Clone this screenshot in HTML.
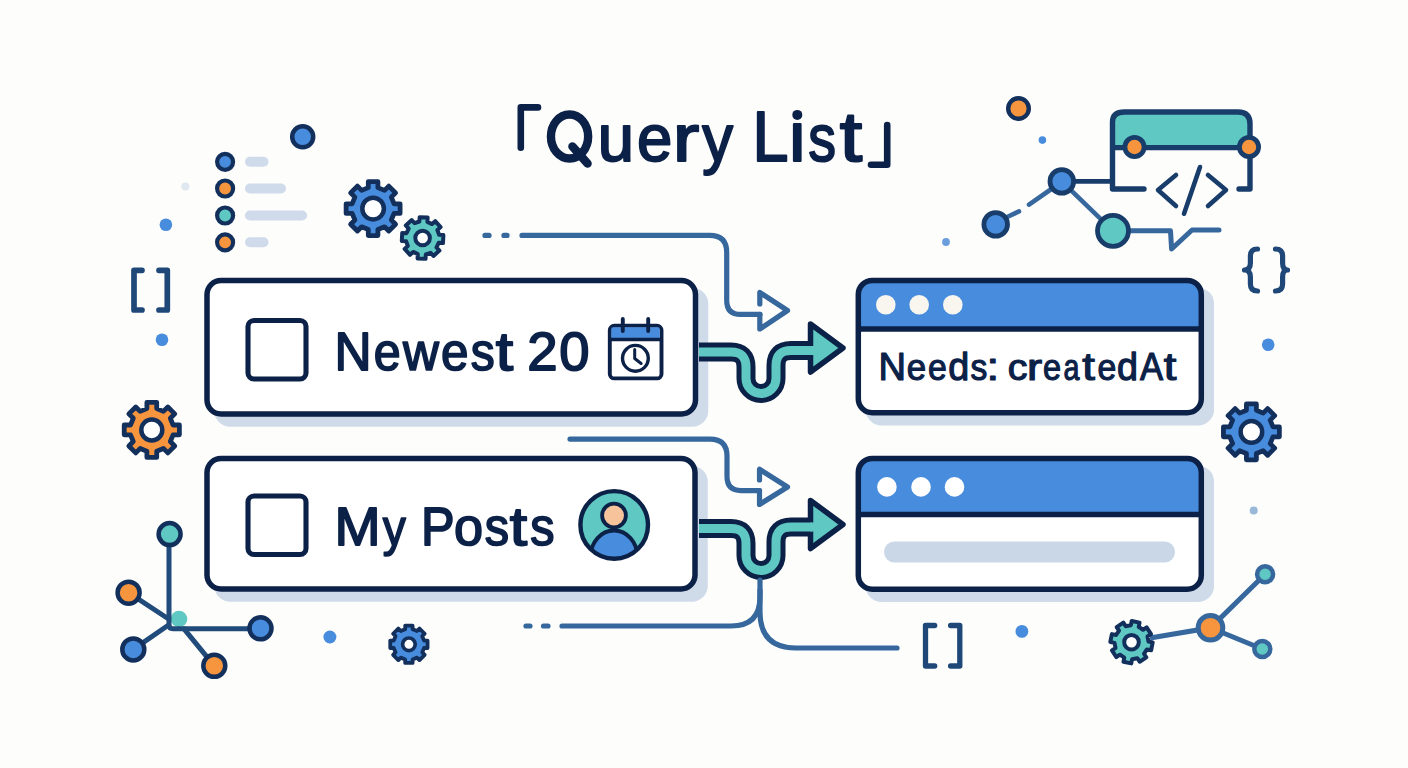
<!DOCTYPE html>
<html><head><meta charset="utf-8"><style>
html,body{margin:0;padding:0;background:#fdfdfc;}
svg{display:block;font-family:"Liberation Sans",sans-serif;}
</style></head><body>
<svg width="1408" height="768" viewBox="0 0 1408 768">
<rect width="1408" height="768" fill="#fdfdfc"/>
<path d="M538,107.4 H520.8 V147.7" fill="none" stroke="#0c2147" stroke-width="6.6" stroke-linecap="round" stroke-linejoin="round"/>
<path d="M871,164.8 H887.2 V125" fill="none" stroke="#0c2147" stroke-width="6.6" stroke-linecap="round" stroke-linejoin="round"/>
<ellipse cx="569.55" cy="136.45" rx="18.6" ry="22" fill="none" stroke="#0c2147" stroke-width="8.4"/><path d="M572.5,146.5 L587.5,163.5" stroke="#0c2147" stroke-width="8.6" stroke-linecap="round"/>
<circle cx="797.3" cy="114.9" r="5" fill="#0c2147"/>
<text transform="translate(597.72,160.7) scale(0.9275,0.96)" font-size="70.3" fill="#0c2147" stroke="#0c2147" stroke-width="2.10" stroke-linejoin="round">u</text><text transform="translate(636.95,160.7) scale(0.9034,0.96)" font-size="70.3" fill="#0c2147" stroke="#0c2147" stroke-width="2.10" stroke-linejoin="round">e</text><text transform="translate(672.66,160.7) scale(1.1323,0.96)" font-size="70.3" fill="#0c2147" stroke="#0c2147" stroke-width="2.10" stroke-linejoin="round">r</text><text transform="translate(702.30,160.7) scale(0.8754,0.96)" font-size="70.3" fill="#0c2147" stroke="#0c2147" stroke-width="2.10" stroke-linejoin="round">y</text><text transform="translate(752.55,160.7) scale(0.9195,1.0)" font-size="70.3" fill="#0c2147" stroke="#0c2147" stroke-width="2.10" stroke-linejoin="round">L</text><text transform="translate(787.04,160.7) scale(1.0520,1.0)" font-size="70.3" fill="#0c2147" stroke="#0c2147" stroke-width="2.10" stroke-linejoin="round">ı</text><text transform="translate(808.21,160.7) scale(0.7895,0.96)" font-size="70.3" fill="#0c2147" stroke="#0c2147" stroke-width="2.10" stroke-linejoin="round">s</text><text transform="translate(839.83,160.7) scale(1.1500,1.0)" font-size="70.3" fill="#0c2147" stroke="#0c2147" stroke-width="2.10" stroke-linejoin="round">t</text>
<circle cx="302.7" cy="136.8" r="10.5" fill="#488ddd" stroke="#13305d" stroke-width="4.5"/>
<circle cx="225.1" cy="161.8" r="8" fill="#488ddd" stroke="#13305d" stroke-width="4.2"/>
<line x1="250" y1="161.8" x2="263.5" y2="161.8" stroke="#cfdaea" stroke-width="10" stroke-linecap="round"/>
<circle cx="225.1" cy="188.5" r="8" fill="#f7953f" stroke="#13305d" stroke-width="4.2"/>
<line x1="250" y1="188.5" x2="281" y2="188.5" stroke="#cfdaea" stroke-width="10" stroke-linecap="round"/>
<circle cx="225.1" cy="215.5" r="8" fill="#5fc8c2" stroke="#13305d" stroke-width="4.2"/>
<line x1="250" y1="215.5" x2="302" y2="215.5" stroke="#cfdaea" stroke-width="10" stroke-linecap="round"/>
<circle cx="225.1" cy="242.3" r="8" fill="#f7953f" stroke="#13305d" stroke-width="4.2"/>
<line x1="250" y1="242.3" x2="263.5" y2="242.3" stroke="#cfdaea" stroke-width="10" stroke-linecap="round"/>
<circle cx="185.4" cy="186.6" r="4" fill="#dfe7ef"/>
<circle cx="165.9" cy="224.7" r="6.3" fill="#488ddd"/>
<path d="M368.31,187.64 L368.31,181.62 L377.90,181.62 L377.90,187.64 L384.53,190.39 L388.79,186.13 L395.57,192.91 L391.31,197.17 L394.06,203.81 L400.08,203.81 L400.08,213.39 L394.06,213.39 L391.31,220.03 L395.57,224.29 L388.79,231.07 L384.53,226.81 L377.90,229.56 L377.90,235.58 L368.31,235.58 L368.31,229.56 L361.67,226.81 L357.41,231.07 L350.63,224.29 L354.89,220.03 L352.14,213.39 L346.12,213.40 L346.12,203.81 L352.14,203.81 L354.89,197.17 L350.63,192.91 L357.41,186.13 L361.67,190.39 Z" fill="#488ddd" stroke="#13305d" stroke-width="4.8" stroke-linejoin="round"/><circle cx="373.1" cy="208.6" r="10.8" fill="#fff" stroke="#13305d" stroke-width="4.5"/>
<path d="M419.42,221.50 L419.64,217.21 L427.63,217.61 L427.41,221.90 L432.02,224.09 L435.20,221.20 L440.57,227.14 L437.38,230.02 L439.10,234.82 L443.39,235.04 L442.99,243.03 L438.70,242.81 L436.51,247.42 L439.40,250.60 L433.46,255.97 L430.58,252.78 L425.78,254.50 L425.56,258.79 L417.57,258.39 L417.79,254.10 L413.18,251.91 L410.00,254.80 L404.63,248.86 L407.82,245.98 L406.10,241.18 L401.81,240.96 L402.21,232.97 L406.50,233.19 L408.69,228.58 L405.80,225.40 L411.74,220.03 L414.62,223.22 Z" fill="#5fc8c2" stroke="#13305d" stroke-width="4" stroke-linejoin="round"/><circle cx="422.6" cy="238" r="7.3" fill="#fff" stroke="#13305d" stroke-width="4"/>
<path d="M142,270.3 H134 V310 H142 M159,270.3 H167.3 V310 H159" fill="none" stroke="#1f4878" stroke-width="5.7" stroke-linecap="round" stroke-linejoin="round"/>
<circle cx="162" cy="339.8" r="6.3" fill="#488ddd"/>
<path d="M146.90,408.62 L146.90,402.33 L156.70,402.33 L156.70,408.62 L163.38,411.39 L167.83,406.94 L174.76,413.87 L170.31,418.32 L173.08,425.00 L179.37,425.00 L179.37,434.80 L173.08,434.80 L170.31,441.48 L174.76,445.93 L167.83,452.86 L163.38,448.41 L156.70,451.18 L156.70,457.47 L146.90,457.47 L146.90,451.18 L140.22,448.41 L135.77,452.86 L128.84,445.93 L133.29,441.48 L130.52,434.80 L124.23,434.80 L124.23,425.00 L130.52,425.00 L133.29,418.32 L128.84,413.87 L135.77,406.94 L140.22,411.39 Z" fill="#f7953f" stroke="#13305d" stroke-width="4.8" stroke-linejoin="round"/><circle cx="151.8" cy="429.9" r="10.5" fill="#fff" stroke="#13305d" stroke-width="4.5"/>
<circle cx="179" cy="619" r="8.3" fill="#5fc8c2"/>
<path d="M128.6,592.7 L168.6,619 M133.3,649.4 L168.6,625 M184,628.8 L214.3,665.8" fill="none" stroke="#214b7a" stroke-width="5" stroke-linecap="round"/>
<path d="M169,534 V624.8 Q169,628.8 173,628.8 H260" fill="none" stroke="#214b7a" stroke-width="5"/>
<circle cx="169.6" cy="534.1" r="11" fill="#5fc8c2" stroke="#13305d" stroke-width="4.5"/>
<circle cx="128.6" cy="592.7" r="11" fill="#f7953f" stroke="#13305d" stroke-width="4.5"/>
<circle cx="133.3" cy="649.4" r="11" fill="#488ddd" stroke="#13305d" stroke-width="4.5"/>
<circle cx="214.3" cy="665.8" r="11" fill="#f7953f" stroke="#13305d" stroke-width="4.5"/>
<circle cx="260.5" cy="628.3" r="11" fill="#488ddd" stroke="#13305d" stroke-width="4.5"/>
<circle cx="329.9" cy="637" r="6.5" fill="#488ddd"/>
<path d="M405.20,629.15 L405.20,625.66 L412.60,625.66 L412.60,629.15 L417.00,630.97 L419.46,628.51 L424.69,633.74 L422.23,636.20 L424.05,640.60 L427.54,640.60 L427.54,648.00 L424.05,648.00 L422.23,652.40 L424.69,654.86 L419.46,660.09 L417.00,657.63 L412.60,659.45 L412.60,662.94 L405.20,662.94 L405.20,659.45 L400.80,657.63 L398.34,660.09 L393.11,654.86 L395.57,652.40 L393.75,648.00 L390.26,648.00 L390.26,640.60 L393.75,640.60 L395.57,636.20 L393.11,633.74 L398.34,628.51 L400.80,630.97 Z" fill="#488ddd" stroke="#13305d" stroke-width="3.8" stroke-linejoin="round"/><circle cx="408.9" cy="644.3" r="6.3" fill="#fff" stroke="#13305d" stroke-width="3.7"/>
<rect x="214.25" y="287.75" width="494.0" height="139.0" rx="16" fill="#d0dbea"/><rect x="207" y="280.5" width="488.5" height="133.5" rx="14" fill="#fff" stroke="#0c2147" stroke-width="5.5"/>
<rect x="248" y="320.5" width="58" height="58.5" rx="6" fill="none" stroke="#0c2147" stroke-width="5.1"/>
<text transform="translate(334.49,369.5) scale(0.9427,1.0)" font-size="54.5" fill="#0c2147" stroke="#0c2147" stroke-width="1.80" stroke-linejoin="round">N</text><text transform="translate(373.64,369.5) scale(0.8876,0.95)" font-size="54.5" fill="#0c2147" stroke="#0c2147" stroke-width="1.80" stroke-linejoin="round">e</text><text transform="translate(402.97,369.5) scale(0.9123,0.95)" font-size="54.5" fill="#0c2147" stroke="#0c2147" stroke-width="1.80" stroke-linejoin="round">w</text><text transform="translate(441.10,369.5) scale(0.9072,0.95)" font-size="54.5" fill="#0c2147" stroke="#0c2147" stroke-width="1.80" stroke-linejoin="round">e</text><text transform="translate(470.87,369.5) scale(0.8795,0.95)" font-size="54.5" fill="#0c2147" stroke="#0c2147" stroke-width="1.80" stroke-linejoin="round">s</text><text transform="translate(495.65,369.5) scale(1.1500,1.0)" font-size="54.5" fill="#0c2147" stroke="#0c2147" stroke-width="1.80" stroke-linejoin="round">t</text><text transform="translate(527.35,369.5) scale(1.0029,1.0)" font-size="54.5" fill="#0c2147" stroke="#0c2147" stroke-width="1.80" stroke-linejoin="round">2</text><text transform="translate(559.28,369.5) scale(0.9980,1.0)" font-size="54.5" fill="#0c2147" stroke="#0c2147" stroke-width="1.80" stroke-linejoin="round">0</text>
<rect x="609.8" y="325.8" width="51.7" height="52.6" rx="4.5" fill="#fff" stroke="#0c2147" stroke-width="3.9"/>
<path d="M611.3,338.5 V329 Q611.3,327.3 613,327.3 H658 Q659.7,327.3 659.7,329 V338.5 Z" fill="#488ddd"/>
<line x1="609.5" y1="339.5" x2="661.5" y2="339.5" stroke="#0c2147" stroke-width="3.4"/>
<path d="M622.8,319 V331 M648.2,319 V331" stroke="#0c2147" stroke-width="3.9" stroke-linecap="round"/>
<circle cx="635.4" cy="358.3" r="12.9" fill="none" stroke="#0c2147" stroke-width="3.4"/>
<path d="M634.7,349.6 V358.5 L641.1,363.5" fill="none" stroke="#0c2147" stroke-width="3" stroke-linecap="round" stroke-linejoin="round"/>
<rect x="214.25" y="465.75" width="493.5" height="136.0" rx="16" fill="#d0dbea"/><rect x="207" y="458.5" width="488" height="130.5" rx="14" fill="#fff" stroke="#0c2147" stroke-width="5.5"/>
<rect x="248" y="496" width="58" height="58.5" rx="6" fill="none" stroke="#0c2147" stroke-width="5.1"/>
<text transform="translate(334.46,544.6) scale(1.0149,1.0)" font-size="54.5" fill="#0c2147" stroke="#0c2147" stroke-width="1.80" stroke-linejoin="round">M</text><text transform="translate(382.79,544.6) scale(0.8478,0.95)" font-size="54.5" fill="#0c2147" stroke="#0c2147" stroke-width="1.80" stroke-linejoin="round">y</text><text transform="translate(420.97,544.6) scale(0.9239,1.0)" font-size="54.5" fill="#0c2147" stroke="#0c2147" stroke-width="1.80" stroke-linejoin="round">P</text><text transform="translate(454.00,544.6) scale(0.9599,0.95)" font-size="54.5" fill="#0c2147" stroke="#0c2147" stroke-width="1.80" stroke-linejoin="round">o</text><text transform="translate(484.75,544.6) scale(0.8921,0.95)" font-size="54.5" fill="#0c2147" stroke="#0c2147" stroke-width="1.80" stroke-linejoin="round">s</text><text transform="translate(509.85,544.6) scale(1.1500,1.0)" font-size="54.5" fill="#0c2147" stroke="#0c2147" stroke-width="1.80" stroke-linejoin="round">t</text><text transform="translate(530.35,544.6) scale(0.8921,0.95)" font-size="54.5" fill="#0c2147" stroke="#0c2147" stroke-width="1.80" stroke-linejoin="round">s</text>
<clipPath id="avc"><circle cx="614.2" cy="524.9" r="33"/></clipPath>
<circle cx="614.2" cy="524.9" r="33" fill="#5fc8c2"/>
<g clip-path="url(#avc)"><ellipse cx="614" cy="557" rx="23.5" ry="26.5" fill="#488ddd" stroke="#0c2147" stroke-width="4"/></g>
<circle cx="614" cy="515.5" r="11.9" fill="#f6c39b" stroke="#0c2147" stroke-width="3.8"/>
<circle cx="614.2" cy="524.9" r="33.8" fill="none" stroke="#0c2147" stroke-width="4.4"/>
<rect x="865.55" y="287.65" width="348.5" height="137.8" rx="16" fill="#d0dbea"/><rect x="858.3" y="280.4" width="343" height="132.3" rx="14" fill="#fff"/><path d="M858.3,329 V294.4 Q858.3,280.4 872.3,280.4 H1187.3 Q1201.3,280.4 1201.3,294.4 V329 Z" fill="#488ddd"/><line x1="858.3" y1="329" x2="1201.3" y2="329" stroke="#0c2147" stroke-width="5.5"/><rect x="858.3" y="280.4" width="343" height="132.3" rx="14" fill="none" stroke="#0c2147" stroke-width="5.5"/>
<circle cx="885.8" cy="304.8" r="9.8" fill="#f8f6ee"/>
<circle cx="919.2" cy="304.8" r="9.8" fill="#f8f6ee"/>
<circle cx="952.8" cy="304.8" r="9.8" fill="#f8f6ee"/>
<text transform="translate(878.60,379.5) scale(0.9631,1.0)" font-size="39.5" fill="#0c2147" stroke="#0c2147" stroke-width="1.25" stroke-linejoin="round">N</text><text transform="translate(906.64,379.5) scale(0.8821,0.95)" font-size="39.5" fill="#0c2147" stroke="#0c2147" stroke-width="1.25" stroke-linejoin="round">e</text><text transform="translate(928.09,379.5) scale(0.8551,0.95)" font-size="39.5" fill="#0c2147" stroke="#0c2147" stroke-width="1.25" stroke-linejoin="round">e</text><text transform="translate(948.34,379.5) scale(0.9542,1.0)" font-size="39.5" fill="#0c2147" stroke="#0c2147" stroke-width="1.25" stroke-linejoin="round">d</text><text transform="translate(970.49,379.5) scale(0.8506,0.95)" font-size="39.5" fill="#0c2147" stroke="#0c2147" stroke-width="1.25" stroke-linejoin="round">s</text><text transform="translate(986.48,379.5) scale(1.1500,1.0)" font-size="39.5" fill="#0c2147" stroke="#0c2147" stroke-width="1.25" stroke-linejoin="round">:</text><text transform="translate(1007.70,379.5) scale(0.9982,0.95)" font-size="39.5" fill="#0c2147" stroke="#0c2147" stroke-width="1.25" stroke-linejoin="round">c</text><text transform="translate(1027.01,379.5) scale(1.1500,0.95)" font-size="39.5" fill="#0c2147" stroke="#0c2147" stroke-width="1.25" stroke-linejoin="round">r</text><text transform="translate(1042.94,379.5) scale(0.8228,0.95)" font-size="39.5" fill="#0c2147" stroke="#0c2147" stroke-width="1.25" stroke-linejoin="round">e</text><text transform="translate(1063.41,379.5) scale(0.7270,0.95)" font-size="39.5" fill="#0c2147" stroke="#0c2147" stroke-width="1.25" stroke-linejoin="round">a</text><text transform="translate(1082.14,379.5) scale(1.1500,1.0)" font-size="39.5" fill="#0c2147" stroke="#0c2147" stroke-width="1.25" stroke-linejoin="round">t</text><text transform="translate(1097.39,379.5) scale(0.8551,0.95)" font-size="39.5" fill="#0c2147" stroke="#0c2147" stroke-width="1.25" stroke-linejoin="round">e</text><text transform="translate(1117.04,379.5) scale(0.9542,1.0)" font-size="39.5" fill="#0c2147" stroke="#0c2147" stroke-width="1.25" stroke-linejoin="round">d</text><text transform="translate(1140.06,379.5) scale(0.8762,1.0)" font-size="39.5" fill="#0c2147" stroke="#0c2147" stroke-width="1.25" stroke-linejoin="round">A</text><text transform="translate(1163.64,379.5) scale(1.1500,1.0)" font-size="39.5" fill="#0c2147" stroke="#0c2147" stroke-width="1.25" stroke-linejoin="round">t</text>
<rect x="865.55" y="465.65" width="348.5" height="136.3" rx="16" fill="#d0dbea"/><rect x="858.3" y="458.4" width="343" height="130.8" rx="14" fill="#fff"/><path d="M858.3,514.4 V472.4 Q858.3,458.4 872.3,458.4 H1187.3 Q1201.3,458.4 1201.3,472.4 V514.4 Z" fill="#488ddd"/><line x1="858.3" y1="514.4" x2="1201.3" y2="514.4" stroke="#0c2147" stroke-width="5.5"/><rect x="858.3" y="458.4" width="343" height="130.8" rx="14" fill="none" stroke="#0c2147" stroke-width="5.5"/>
<circle cx="886.9" cy="486.9" r="9.8" fill="#fff"/>
<circle cx="921" cy="486.9" r="9.8" fill="#fff"/>
<circle cx="954.5" cy="486.9" r="9.8" fill="#fff"/>
<line x1="894.5" y1="552" x2="1164.5" y2="552" stroke="#cad7e7" stroke-width="21" stroke-linecap="round"/>
<path d="M699,352 H731 Q746,352 746,367 V378.5 A15,15 0 0 0 776,378.5 V365.5 Q776,350.5 791,350.5 H812" fill="none" stroke="#0c2147" stroke-width="19" stroke-linejoin="round"/><path d="M810.5,324.0 L843,348.0 L810.5,372.0 Z" fill="#5fc8c2" stroke="#0c2147" stroke-width="5.5" stroke-linejoin="round"/><path d="M699,352 H731 Q746,352 746,367 V378.5 A15,15 0 0 0 776,378.5 V365.5 Q776,350.5 791,350.5 H812" fill="none" stroke="#5fc8c2" stroke-width="9" stroke-linejoin="round"/><path d="M814.5,346.0 V355.0" stroke="#5fc8c2" stroke-width="8"/>
<path d="M699,528.5 H731 Q746,528.5 746,543.5 V555.5 A15,15 0 0 0 776,555.5 V542 Q776,527 791,527 H812" fill="none" stroke="#0c2147" stroke-width="19" stroke-linejoin="round"/><path d="M810.5,500.5 L843,524.5 L810.5,548.5 Z" fill="#5fc8c2" stroke="#0c2147" stroke-width="5.5" stroke-linejoin="round"/><path d="M699,528.5 H731 Q746,528.5 746,543.5 V555.5 A15,15 0 0 0 776,555.5 V542 Q776,527 791,527 H812" fill="none" stroke="#5fc8c2" stroke-width="9" stroke-linejoin="round"/><path d="M814.5,522.5 V531.5" stroke="#5fc8c2" stroke-width="8"/>
<path d="M485,235.4 H489 M504,235.4 H507" stroke="#37689d" stroke-width="5.3" stroke-linecap="round"/>
<path d="M522,235.4 H709.7 Q726.7,235.4 726.7,252.4 V300.4 Q726.7,314.4 740.7,314.4 H760" fill="none" stroke="#37689d" stroke-width="5.2" stroke-linecap="round"/>
<path d="M759.8,314.4 V329 L787.5,310.5 L759.8,292.5 V304" fill="none" stroke="#37689d" stroke-width="5.2" stroke-linecap="round" stroke-linejoin="round"/>
<path d="M570,439.1 H710 Q727,439.1 727,456.1 V476.6 Q727,490.6 741,490.6 H759.5" fill="none" stroke="#37689d" stroke-width="5.2" stroke-linecap="round"/>
<path d="M759.5,490.6 V504.5 L787.5,487 L759.5,469.3 V480" fill="none" stroke="#37689d" stroke-width="5.2" stroke-linecap="round" stroke-linejoin="round"/>
<path d="M526,626 H530 M543.5,626 H548" stroke="#37689d" stroke-width="5.2" stroke-linecap="round"/>
<path d="M562,626 H731 Q760,626 760,597 V580" fill="none" stroke="#37689d" stroke-width="5.2" stroke-linecap="round"/>
<path d="M760,590 V612 Q760,648 796,648 H897" fill="none" stroke="#37689d" stroke-width="5.2" stroke-linecap="round"/>
<circle cx="1018.5" cy="108.5" r="10.3" fill="#f7953f" stroke="#13305d" stroke-width="4.4"/>
<circle cx="1042.4" cy="140.1" r="3.8" fill="#488ddd"/>
<circle cx="946" cy="242" r="3.9" fill="#6a9edc"/>
<path d="M1112.5,147.6 V122 Q1112.5,112 1124.5,112 H1238 Q1250,112 1250,124 V147.6 Z" fill="#5fc8c2"/>
<path d="M1144,189 H1112.5 V122 Q1112.5,112 1124.5,112 H1238 Q1250,112 1250,124 V189 H1239" fill="none" stroke="#183d6b" stroke-width="5.4" stroke-linecap="round" stroke-linejoin="round"/>
<line x1="1112.5" y1="147.6" x2="1250" y2="147.6" stroke="#183d6b" stroke-width="5.4"/>
<circle cx="1134.5" cy="147" r="9.6" fill="#f7953f" stroke="#183d6b" stroke-width="4.8"/>
<circle cx="1249" cy="147" r="9.6" fill="#f7953f" stroke="#183d6b" stroke-width="4.8"/>
<path d="M1176,175 L1158,190 L1176,206 M1208,175 L1226,190 L1208,206 M1200,167 L1184,213.7" fill="none" stroke="#183d6b" stroke-width="4.6" stroke-linecap="round" stroke-linejoin="round"/>
<line x1="1061.8" y1="181.4" x2="1112" y2="181.4" stroke="#183d6b" stroke-width="4.6"/>
<path d="M1005,218 L1019,211.4 M1029,204.6 L1050,190" stroke="#37689d" stroke-width="4.6" stroke-linecap="round"/>
<line x1="1061.8" y1="181.4" x2="1113" y2="230.8" stroke="#37689d" stroke-width="4.6"/>
<path d="M1113,230.8 H1170.5 L1171.6,249 L1192,230 H1219" fill="none" stroke="#37689d" stroke-width="5" stroke-linecap="round" stroke-linejoin="round"/>
<circle cx="1061.8" cy="181.4" r="11.8" fill="#488ddd" stroke="#183d6b" stroke-width="4.8"/>
<circle cx="995.7" cy="224.4" r="11.8" fill="#488ddd" stroke="#183d6b" stroke-width="4.8"/>
<circle cx="1113" cy="230.8" r="15.5" fill="#5fc8c2" stroke="#183d6b" stroke-width="4.8"/>
<path d="M1257.5,249 Q1250.4,249 1250.4,256 V263 Q1250.4,270 1244.5,270 Q1250.4,270 1250.4,277 V284 Q1250.4,291 1257.5,291 M1275.5,249 Q1282.6,249 1282.6,256 V263 Q1282.6,270 1287.5,270 Q1282.6,270 1282.6,277 V284 Q1282.6,291 1275.5,291" fill="none" stroke="#1f4878" stroke-width="5.2" stroke-linecap="round" stroke-linejoin="round"/>
<circle cx="1268.2" cy="344.7" r="6.3" fill="#488ddd"/>
<path d="M1246.43,410.31 L1246.43,403.94 L1256.37,403.94 L1256.37,410.31 L1263.15,413.12 L1267.66,408.61 L1274.69,415.64 L1270.18,420.15 L1272.99,426.93 L1279.36,426.93 L1279.36,436.87 L1272.99,436.87 L1270.18,443.65 L1274.69,448.16 L1267.66,455.19 L1263.15,450.68 L1256.37,453.49 L1256.37,459.86 L1246.43,459.86 L1246.43,453.49 L1239.65,450.68 L1235.14,455.19 L1228.11,448.16 L1232.62,443.65 L1229.81,436.87 L1223.44,436.87 L1223.44,426.93 L1229.81,426.93 L1232.62,420.15 L1228.11,415.64 L1235.14,408.61 L1239.65,413.12 Z" fill="#488ddd" stroke="#13305d" stroke-width="4.8" stroke-linejoin="round"/><circle cx="1251.4" cy="431.9" r="10.8" fill="#fff" stroke="#13305d" stroke-width="4.5"/>
<circle cx="1253.7" cy="510.6" r="4" fill="#9ab8d8"/>
<path d="M934.7,625.5 H925.5 V666 H934.7 M950.6,625.5 H959.8 V666 H950.6" fill="none" stroke="#1f4878" stroke-width="5.3" stroke-linecap="round" stroke-linejoin="round"/>
<circle cx="1021.9" cy="631.4" r="6.4" fill="#488ddd"/>
<path d="M1150,638 L1210.5,627.8 L1265.1,574.2 M1210.5,627.8 L1262.3,649" fill="none" stroke="#37689d" stroke-width="5"/>
<path d="M1130.86,625.21 L1131.72,621.00 L1139.56,622.59 L1138.70,626.80 L1143.06,629.74 L1146.64,627.36 L1151.06,634.03 L1147.48,636.40 L1148.49,641.56 L1152.70,642.42 L1151.11,650.26 L1146.90,649.40 L1143.96,653.76 L1146.34,657.34 L1139.67,661.76 L1137.30,658.18 L1132.14,659.19 L1131.28,663.40 L1123.44,661.81 L1124.30,657.60 L1119.94,654.66 L1116.36,657.04 L1111.94,650.37 L1115.52,648.00 L1114.51,642.84 L1110.30,641.98 L1111.89,634.14 L1116.10,635.00 L1119.04,630.64 L1116.66,627.06 L1123.33,622.64 L1125.70,626.22 Z" fill="#5fc8c2" stroke="#13305d" stroke-width="4" stroke-linejoin="round"/><circle cx="1131.5" cy="642.2" r="7.3" fill="#fff" stroke="#13305d" stroke-width="4"/>
<circle cx="1210.5" cy="627.8" r="12.3" fill="#f7953f" stroke="#37689d" stroke-width="5"/>
<circle cx="1265.1" cy="574.2" r="8" fill="#5fc8c2" stroke="#37689d" stroke-width="4.5"/>
<circle cx="1262.3" cy="649" r="8" fill="#5fc8c2" stroke="#37689d" stroke-width="4.5"/>
</svg>
</body></html>
